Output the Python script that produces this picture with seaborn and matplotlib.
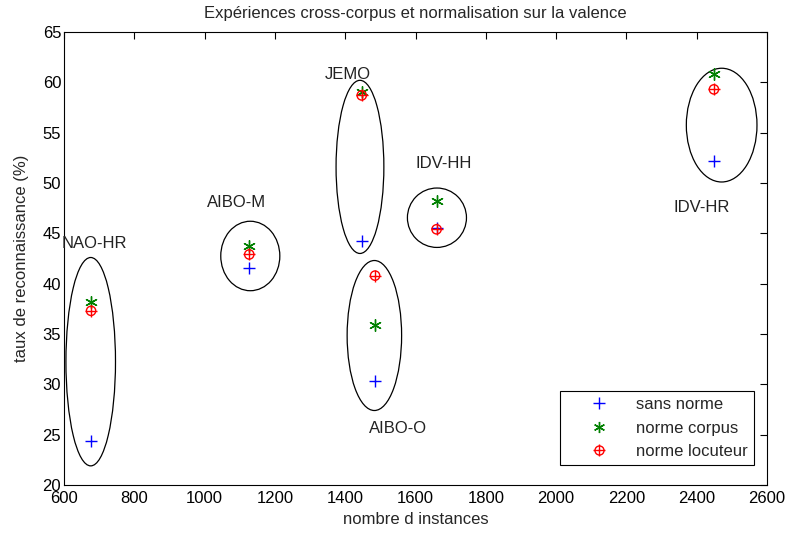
import matplotlib
matplotlib.use("Agg")
import matplotlib.pyplot as plt
from matplotlib.patches import Ellipse
from matplotlib.lines import Line2D
from matplotlib.legend_handler import HandlerTuple
import seaborn as sns
import pandas as pd

sns.set_style("white")
plt.rcParams['font.family'] = ['Liberation Sans', 'DejaVu Sans']

# ---- data ----
corpus = ['NAO-HR', 'AIBO-M', 'JEMO', 'IDV-HH', 'AIBO-O', 'IDV-HR']
instances = [677, 1127, 1447, 1660, 1485, 2449]
sans_norme = [24.4, 41.6, 44.2, 45.5, 30.3, 52.2]
norme_corpus = [38.2, 43.7, 59.0, 48.2, 35.9, 60.8]
norme_locuteur = [37.3, 42.9, 58.7, 45.4, 40.8, 59.3]

# ellipse groupings (data units)
ell_x = [676, 1130, 1442, 1661, 1483, 2471]
ell_y = [32.25, 42.75, 51.6, 46.55, 34.85, 55.75]
ell_w = [141, 168, 136, 168, 155, 201]
ell_h = [20.7, 6.9, 17.2, 5.9, 14.9, 11.3]

# label positions (left, centre)
lab_x = [594, 1007, 1342, 1599, 1468, 2333]
lab_y = [44.0, 48.1, 60.8, 51.9, 25.6, 47.6]

x_ticks = [600, 800, 1000, 1200, 1400, 1600, 1800, 2000, 2200, 2400, 2600]
y_ticks = [20, 25, 30, 35, 40, 45, 50, 55, 60, 65]

df = pd.DataFrame({'instances': instances, 'sans': sans_norme,
                   'corpus_n': norme_corpus, 'loc': norme_locuteur})

FS = 12
fig = plt.figure(figsize=(7.86, 5.33), dpi=100)
ax = fig.add_axes([64/786, 1-485/533, (767-64)/786, (485-32)/533])

for cx, cy, w, h in zip(ell_x, ell_y, ell_w, ell_h):
    ax.add_patch(Ellipse((cx, cy), w, h, fill=False, edgecolor='black', lw=0.9))

sns.scatterplot(data=df, x='instances', y='sans', marker='+', color='blue',
                s=70, linewidth=1.0, ax=ax, zorder=3)
sns.scatterplot(data=df, x='instances', y='corpus_n', marker=(6, 2, 0), color='green',
                s=70, linewidth=1.0, ax=ax, zorder=3)
sns.scatterplot(data=df, x='instances', y='loc', marker='o', facecolors='none',
                edgecolor='red', s=45, linewidth=1.0, ax=ax, zorder=3)
sns.scatterplot(data=df, x='instances', y='loc', marker='+', color='red',
                s=70, linewidth=1.0, ax=ax, zorder=3)

for t, lx, ly in zip(corpus, lab_x, lab_y):
    ax.text(lx, ly, t, ha='left', va='center', fontsize=FS, color='#222222', clip_on=False)

ax.set_xlim(600, 2600)
ax.set_ylim(20, 65)
ax.set_xticks(x_ticks)
ax.set_yticks(y_ticks)
ax.tick_params(direction='in', length=5, top=True, right=True, labelsize=FS,
               width=0.8, colors='black', pad=2)
ax.tick_params(axis='x', pad=4)
for sp in ax.spines.values():
    sp.set_visible(True)
    sp.set_color('black')
    sp.set_linewidth(0.8)

ax.set_title('Expériences cross-corpus et normalisation sur la valence', fontsize=FS, pad=10)
ax.set_xlabel('nombre d instances', fontsize=FS, labelpad=5)
ax.set_ylabel('taux de reconnaissance (%)', fontsize=FS, labelpad=10)

h1 = Line2D([], [], marker='+', color='blue', ls='none', markersize=8, mew=1.0)
h2 = Line2D([], [], marker=(6, 2, 0), color='green', ls='none', markersize=8, mew=1.0)
h3a = Line2D([], [], marker='o', color='red', mfc='none', ls='none', markersize=6.5, mew=1.0)
h3b = Line2D([], [], marker='+', color='red', ls='none', markersize=8, mew=1.0)
leg = ax.legend([h1, h2, (h3a, h3b)], ['sans norme', 'norme corpus', 'norme locuteur'],
                handler_map={tuple: HandlerTuple(ndivide=1, pad=0)},
                loc='lower right', bbox_to_anchor=(0.981, 0.044), fontsize=FS,
                frameon=True, fancybox=False, edgecolor='black', framealpha=1,
                handlelength=4.0, handletextpad=0.2, borderpad=0.35, labelspacing=0.52,
                borderaxespad=0)
leg.get_frame().set_linewidth(0.8)

fig.savefig('out.png', dpi=100)
